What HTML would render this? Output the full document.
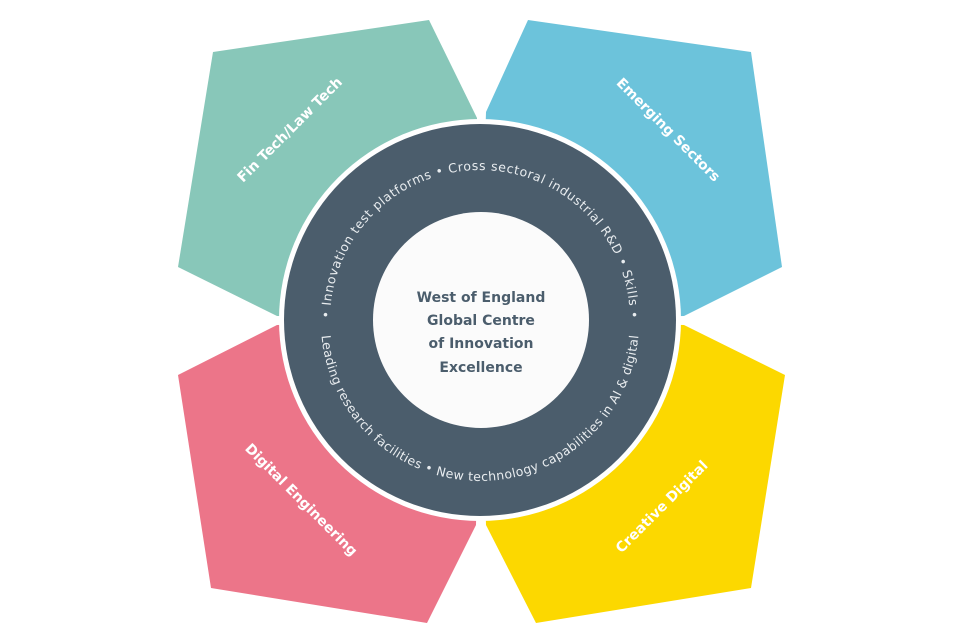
<!DOCTYPE html>
<html><head><meta charset="utf-8"><style>
html,body{margin:0;padding:0;background:#fff;}
svg{display:block;}
</style></head><body>
<svg width="960" height="640" viewBox="0 0 960 640" xmlns="http://www.w3.org/2000/svg">
<defs>
<path id="tp" d="M330,320 A150,150 0 0 1 630,320"/>
<path id="bp" d="M321,322 A159,159 0 0 0 639,322"/>
</defs>
<polygon points="213,52 429,20 477,118 480,320 277,316 178,267" fill="#88C7B9"/>
<polygon points="486,112 528,20 751,52 782,267 684,316 480,320" fill="#6CC3DB"/>
<polygon points="277,325 480,320 476,525 427,623 211,588 178,375" fill="#EC7589"/>
<polygon points="684,325 785,375 751,588 536,623 486,525 480,320" fill="#FCD800"/>
<circle cx="480" cy="320" r="201" fill="#fff"/>
<circle cx="480" cy="320" r="196" fill="#4B5D6C"/>
<circle cx="481" cy="320" r="108" fill="#FBFBFB"/>
<g font-family="'DejaVu Sans','Liberation Sans',sans-serif" font-size="12.5" fill="#E8ECEF">
<text><textPath href="#tp" startOffset="50%" text-anchor="middle" textLength="468" lengthAdjust="spacing">• Innovation test platforms • Cross sectoral industrial R&amp;D • Skills •</textPath></text>
<text><textPath href="#bp" startOffset="50%" text-anchor="middle" textLength="472" lengthAdjust="spacing">Leading research facilities • New technology capabilities in AI &amp; digital</textPath></text>
</g>
<g font-family="'DejaVu Sans','Liberation Sans',sans-serif" font-size="14" font-weight="bold" fill="#4B5D6C" text-anchor="middle">
<text x="481" y="302">West of England</text>
<text x="481" y="325">Global Centre</text>
<text x="481" y="348">of Innovation</text>
<text x="481" y="372">Excellence</text>
</g>
<g font-family="'DejaVu Sans','Liberation Sans',sans-serif" font-size="14" font-weight="bold" fill="#fff" text-anchor="middle">
<text transform="translate(293,133) rotate(-45)">Fin Tech/Law Tech</text>
<text transform="translate(665,133) rotate(45)">Emerging Sectors</text>
<text transform="translate(298,503) rotate(45)">Digital Engineering</text>
<text transform="translate(665,510) rotate(-45)">Creative Digital</text>
</g>
</svg>
</body></html>
